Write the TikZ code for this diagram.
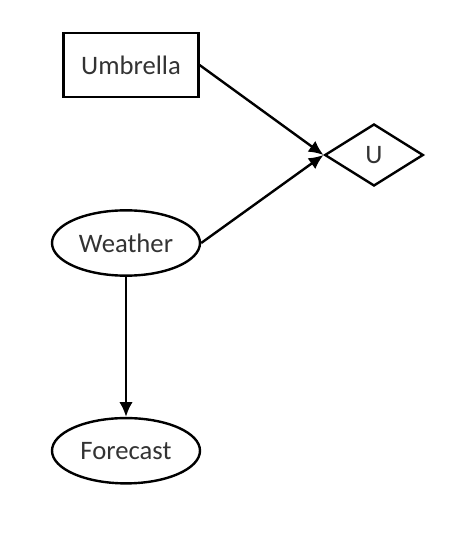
\documentclass[tikz,border=0pt]{standalone}
\usepackage{fontspec}
\setmainfont{Carlito}
\usepackage{tikz}
\usetikzlibrary{shapes.geometric,positioning,arrows.meta}

\begin{document}
\begin{tikzpicture}[
    x=0.75pt, y=-0.75pt,
    node distance=105pt,
    every node/.style={font=\fontsize{20}{24}\selectfont, text=black!80},
    decision/.style={rectangle, draw, line width=1.8pt, minimum width=101pt, minimum height=48pt},
    chance/.style={ellipse, draw, line width=1.8pt, minimum width=111pt, minimum height=49pt},
    utility/.style={diamond, draw, line width=1.8pt, inner sep=0pt, minimum width=74pt, minimum height=46.5pt},
    arrow/.style={-{Latex[length=11pt,width=10pt]}, line width=1.8pt}
]
    \useasboundingbox (0,0) rectangle (471,545);

    \node[decision] (umbrella) at (131,65) {Umbrella};
    \node[utility] (u) at (374,155) {U};
    \node[chance] (weather) at (126,243) {Weather};
    \node[chance, below=of weather] (forecast) {Forecast};

    \draw[arrow] (umbrella.east) -- (u.west);
    \draw[arrow] (weather.east) -- (u.west);
    \draw[arrow] (weather) -- (forecast);
\end{tikzpicture}
\end{document}
